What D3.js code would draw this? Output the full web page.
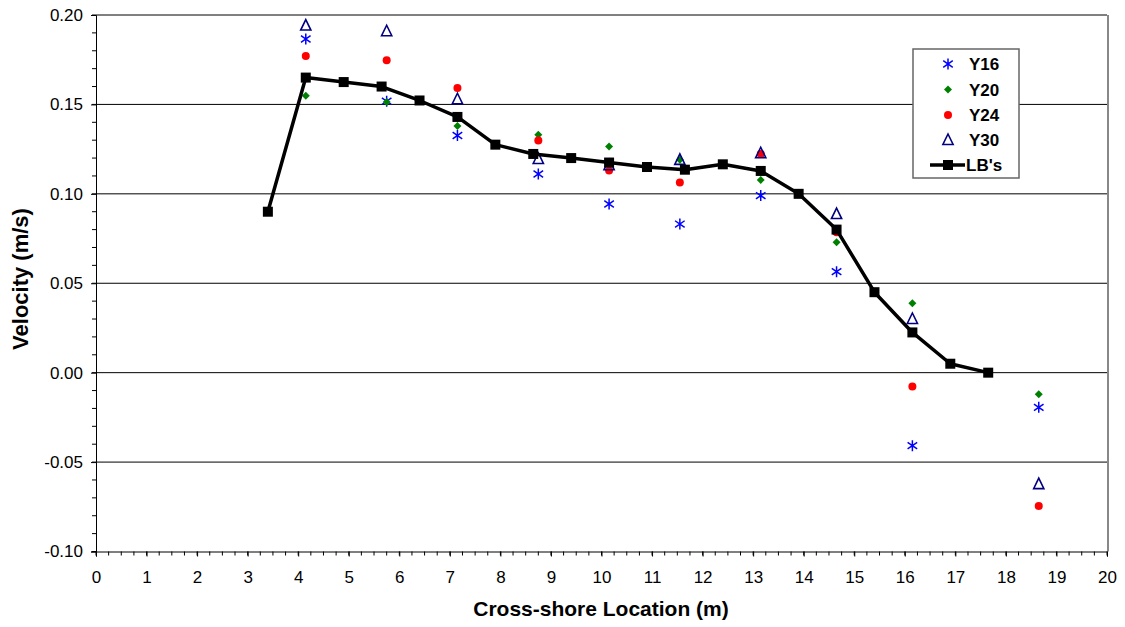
<!DOCTYPE html>
<html>
<head>
<meta charset="utf-8">
<script src="https://cdn.jsdelivr.net/npm/d3@7"></script>
<style>
  html, body { margin: 0; padding: 0; background: #fff; }
  svg { display: block; font-family: "Liberation Sans", Arial, sans-serif; }
</style>
</head>
<body>
<svg id="chart" width="1125" height="627"></svg>
<script>
// ---- data ----
const lbX = [3.4, 4.15, 4.9, 5.65, 6.4, 7.15, 7.9, 8.65, 9.4, 10.15, 10.9, 11.65, 12.4, 13.15, 13.9, 14.65, 15.4, 16.15, 16.9, 17.65];
const lbY = [0.090, 0.165, 0.1625, 0.160, 0.1522, 0.143, 0.1275, 0.1223, 0.120, 0.1175, 0.115, 0.1135, 0.1165, 0.1128, 0.100, 0.080, 0.045, 0.0225, 0.005, 0.000];

const scatX = [4.15, 5.75, 7.15, 8.75, 10.15, 11.55, 13.15, 14.65, 16.15, 18.65];
const y16 = [0.1866, 0.1518, 0.1326, 0.1111, 0.0943, 0.0831, 0.0990, 0.0565, -0.0408, -0.0194];
const y20 = [0.1549, 0.1514, 0.1380, 0.1331, 0.1264, 0.1190, 0.1078, 0.0729, 0.0388, -0.0121];
const y24 = [0.1771, 0.1747, 0.1592, 0.1298, 0.1130, 0.1064, 0.1223, 0.0785, -0.0078, -0.0746];
const y30 = [0.1941, 0.1909, 0.1529, 0.1195, 0.1160, 0.1190, 0.1227, 0.0887, 0.0300, -0.0623];

const xTicks = d3.range(0, 21, 1);
const yTicks = [-0.10, -0.05, 0.00, 0.05, 0.10, 0.15, 0.20];
const legendLabels = ["Y16", "Y20", "Y24", "Y30", "LB's"];

// ---- layout ----
const svg = d3.select("#chart");
const x = d3.scaleLinear().domain([0, 20]).range([96, 1107]);
const y = d3.scaleLinear().domain([-0.10, 0.20]).range([551.5, 15]);

// gridlines
svg.append("g").selectAll("line").data(yTicks.filter(d => d > -0.1))
  .join("line")
  .attr("x1", x(0)).attr("x2", x(20))
  .attr("y1", d => y(d)).attr("y2", d => y(d))
  .attr("stroke", "#000").attr("stroke-width", 1);

// right border
svg.append("line").attr("x1", x(20) + 1).attr("x2", x(20) + 1)
  .attr("y1", y(0.2)).attr("y2", y(-0.1))
  .attr("stroke", "#888").attr("stroke-width", 2);

// y axis
const fmtY = d => d3.format(".2f")(d).replace("\u2212", "-");
const yAxis = d3.axisLeft(y).tickValues(yTicks).tickFormat(fmtY).tickSize(5).tickPadding(8);
const gy = svg.append("g").attr("transform", `translate(${x(0)},0)`).call(yAxis);
gy.select(".domain").attr("stroke", "#000");
gy.selectAll("text").attr("font-size", 17).attr("fill", "#000")
  .attr("font-family", "'Liberation Sans', Arial, sans-serif");
const yMinor = d3.range(-0.10, 0.2001, 0.01);
svg.append("g").selectAll("line").data(yMinor).join("line")
  .attr("x1", x(0) - 4).attr("x2", x(0))
  .attr("y1", d => y(d)).attr("y2", d => y(d))
  .attr("stroke", "#000");

// x axis
const xAxis = d3.axisBottom(x).tickValues(xTicks).tickFormat(d3.format("d")).tickSize(5).tickPadding(14);
const gx = svg.append("g").attr("transform", `translate(0,${y(-0.1)})`).call(xAxis);
gx.select(".domain").attr("stroke", "#000");
gx.selectAll("text").attr("font-size", 17).attr("fill", "#000")
  .attr("font-family", "'Liberation Sans', Arial, sans-serif");
const xMinor = d3.range(0, 20.001, 0.25);
svg.append("g").selectAll("line").data(xMinor).join("line")
  .attr("x1", d => x(d)).attr("x2", d => x(d))
  .attr("y1", y(-0.1)).attr("y2", y(-0.1) + 4)
  .attr("stroke", "#000");

// axis titles
svg.append("text").attr("x", 601).attr("y", 616).attr("text-anchor", "middle")
  .attr("font-size", 21).attr("font-weight", "bold").text("Cross-shore Location (m)");
svg.append("text").attr("transform", "translate(28,279) rotate(-90)").attr("text-anchor", "middle")
  .attr("font-size", 22).attr("font-weight", "bold").text("Velocity (m/s)");

// ---- markers ----
function asterisk(g, cx, cy, s) {
  const p = `M${cx},${cy - s}L${cx},${cy + s}M${cx - s * 0.87},${cy - s * 0.6}L${cx + s * 0.87},${cy + s * 0.6}M${cx - s * 0.87},${cy + s * 0.6}L${cx + s * 0.87},${cy - s * 0.6}`;
  g.append("path").attr("d", p).attr("stroke", "#0000FF").attr("stroke-width", 1.5).attr("fill", "none");
}
function diamond(g, cx, cy, s) {
  g.append("path").attr("d", `M${cx},${cy - s}L${cx + s},${cy}L${cx},${cy + s}L${cx - s},${cy}Z`).attr("fill", "#008000");
}
function circle(g, cx, cy, r) {
  g.append("circle").attr("cx", cx).attr("cy", cy).attr("r", r).attr("fill", "#FF0000");
}
function triangle(g, cx, cy, s) {
  g.append("path").attr("d", `M${cx},${cy - s}L${cx + s * 0.85},${cy + s * 0.75}L${cx - s * 0.85},${cy + s * 0.75}Z`)
    .attr("fill", "none").attr("stroke", "#000080").attr("stroke-width", 1.6);
}
function square(g, cx, cy, s) {
  g.append("rect").attr("x", cx - s).attr("y", cy - s).attr("width", 2 * s).attr("height", 2 * s).attr("fill", "#000");
}

const pts = svg.append("g");
scatX.forEach((xv, i) => asterisk(pts, x(xv), y(y16[i]), 5.5));
scatX.forEach((xv, i) => diamond(pts, x(xv), y(y20[i]), 4));
scatX.forEach((xv, i) => circle(pts, x(xv), y(y24[i]), 4));
scatX.forEach((xv, i) => triangle(pts, x(xv), y(y30[i]), 6));

// LB's line
const lbData = lbX.map((d, i) => [d, lbY[i]]);
svg.append("path").datum(lbData)
  .attr("d", d3.line().x(d => x(d[0])).y(d => y(d[1])))
  .attr("fill", "none").attr("stroke", "#000").attr("stroke-width", 3.5).attr("stroke-linejoin", "round");
const sq = svg.append("g");
lbData.forEach(d => square(sq, x(d[0]), y(d[1]), 5));

// ---- legend ----
const lg = svg.append("g");
lg.append("rect").attr("x", 913).attr("y", 49).attr("width", 106).attr("height", 129)
  .attr("fill", "#fff").attr("stroke", "#666").attr("stroke-width", 1.5);
const ly = [64, 89.5, 115, 140, 165];
const symX = 948;
asterisk(lg, symX, ly[0], 5.5);
diamond(lg, symX, ly[1], 4);
circle(lg, symX, ly[2], 4);
triangle(lg, symX, ly[3], 6);
lg.append("line").attr("x1", 930).attr("x2", 965).attr("y1", ly[4]).attr("y2", ly[4])
  .attr("stroke", "#000").attr("stroke-width", 3.5);
square(lg, symX, ly[4], 5);
lg.selectAll("text.lab").data(legendLabels).join("text")
  .attr("class", "lab")
  .attr("x", (d, i) => i === 4 ? 966 : 969)
  .attr("y", (d, i) => ly[i] + 6)
  .attr("font-size", 17).attr("font-weight", "bold").text(d => d);
</script>
</body>
</html>
